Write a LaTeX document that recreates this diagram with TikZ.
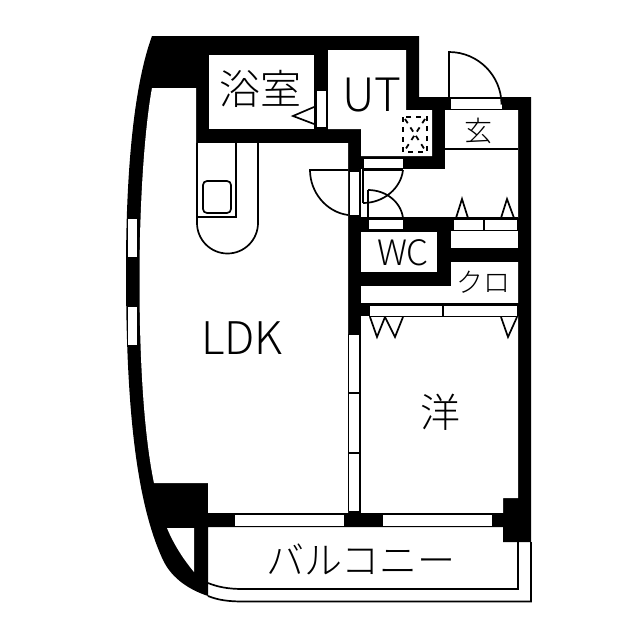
\documentclass[tikz,border=0pt]{standalone}
\usepackage{fontspec}
\newfontfamily\cjk[UprightFont=* Light]{Noto Sans CJK JP}
\tikzset{
  room/.style={fill=white,draw=none},
  opening/.style={fill=white,draw=black,line width=1pt},
  thin/.style={draw=black,line width=1.1pt},
  fine/.style={draw=black,line width=1.7pt},
  lab/.style={inner sep=0pt,font=\cjk,text=black}
}
\begin{document}
\begin{tikzpicture}[x=1pt,y=-1pt]
\useasboundingbox (0,0) rectangle (640,640);
\fill[white] (0,0) rectangle (640,640);
% building mass
\fill[black] (152,36) -- (419,36) -- (419,97) -- (531,97) -- (531,542) -- (503,542) -- (503,527) -- (208,527) -- (208,596)
  .. controls (190,590) and (172,579) .. (163,560)
  .. controls (135,500) and (126,400) .. (126,270)
  .. controls (126,170) and (134,85) .. (152,36) -- cycle;
% LDK
\fill[room] (196,88) -- (196,143) -- (348,143) -- (348,513) -- (208,513) -- (208,483) -- (154,483)
  .. controls (145,440) and (139.5,370) .. (139.5,280)
  .. controls (139.5,190) and (146,120) .. (152,88) -- cycle;
% triangle by the balcony
\fill[room] (167,528) -- (194,528) -- (194,572) .. controls (184,560) and (174,545) .. (167,528) -- cycle;
% other rooms
\fill[room] (209,55) rectangle (314,129);
\fill[room] (328,50) -- (406,50) -- (406,110) -- (432,110) -- (432,156) -- (361,156) -- (361,129) -- (328,129) -- cycle;
\fill[room] (361,169) -- (445,169) -- (445,110) -- (518,110) -- (518,218) -- (361,218) -- cycle;
\fill[room] (361,232) rectangle (437,272);
\fill[room] (451,231) rectangle (518,248);
\fill[room] (451,262) -- (518,262) -- (518,303) -- (361,303) -- (361,286) -- (451,286) -- cycle;
\fill[room] (361,316) -- (518,316) -- (518,498) -- (503,498) -- (503,513) -- (361,513) -- cycle;
% windows in the curved wall
\draw[opening] (127.5,218) rectangle (137.5,257);
\draw[opening] (127.5,306) rectangle (137.5,345);
% bottom windows
\draw[opening] (234,514) rectangle (344,526.5);
\draw[opening] (382,514) rectangle (492,526.5);
\draw[thin] (208,513.5) -- (348,513.5);
\draw[thin] (361,513.5) -- (503,513.5);
\draw[thin] (208,526.5) -- (503,526.5);
% sliding door to LDK/western room
\fill[white] (348.5,334) rectangle (360,511);
\draw[black,line width=1pt] (348.5,334) -- (348.5,511);
\draw[black,line width=1.7pt] (359.5,334) -- (359.5,511);
\draw[black,line width=1pt] (348.5,334) -- (359.5,334);
\draw[black,line width=1.3pt] (348.5,393) -- (359.5,393);
\draw[black,line width=1.3pt] (348.5,453) -- (359.5,453);
% closet doors
\draw[opening] (369,305) rectangle (517.5,316);
\draw[thin] (443,305) -- (443,316);
\draw[thin] (361,303.5) -- (518,303.5);
\draw[fine] (370,317) -- (377,337) -- (385,317) (385,317) -- (395,337) -- (403,317);
\draw[fine] (501,317) -- (508,337) -- (517,317);
% shoe cupboard doors
\draw[opening] (453,219) rectangle (517.5,230.5);
\draw[thin] (484,219) -- (484,230.5);
\draw[thin] (361,218) -- (518,218);
\draw[fine] (456,218) -- (462,199) -- (468,218);
\draw[fine] (501,218) -- (507,199) -- (514,218);
% entrance door
\draw[opening] (450,98) rectangle (502,109.5);
\draw[fine] (449,98) -- (449,52) arc[start angle=270,end angle=360,radius=52.5];
\draw[thin] (445,149) -- (518,149);
% UT door opening and leaf
\draw[opening] (363,158) rectangle (403,168);
\draw[fine] (403,170) -- (363,170) -- (363,203);
\draw[fine] (403,170) .. controls (401,188) and (384,203) .. (363,203);
% WC door
\draw[opening] (368,219) rectangle (403,229);
\draw[fine] (368,218) -- (368,190);
\draw[fine] (368,190) .. controls (386,190) and (401,202) .. (403,218);
% LDK door
\fill[white] (349,171) rectangle (359,215);
\draw[black,line width=1pt] (349,171) rectangle (359,215);
\draw[fine] (348,170) -- (310,170) .. controls (310,192) and (326,212) .. (348,215);
\draw[thin] (360,170) -- (360,215);
% bath door
\draw[opening] (316,90) rectangle (326,127);
\draw[fine] (314,107) -- (293,116) -- (314,124);
% pipe space
\draw[black,line width=2pt,dash pattern=on 5pt off 5pt] (403,117) rectangle (427,152);
\draw[black,line width=1.8pt,dash pattern=on 5pt off 5pt] (405,119) -- (425,150) (425,119) -- (405,150);
% kitchen
\draw[fine] (197,143) -- (197,223) arc[start angle=180,end angle=0,radius=30.5] -- (258,143);
\draw[fine] (236,143) -- (236,217) -- (197,217);
\draw[fine,rounded corners=4pt] (203,181) rectangle (231,213);
% balcony
\draw[fine] (208,583) .. controls (218,587) and (228,589) .. (243,589) -- (518,589) -- (518,542);
\draw[fine] (208,596) .. controls (218,600) and (228,601.5) .. (243,601.5) -- (531,601.5) -- (531,542);
% labels
\node[lab,font=\cjk\fontsize{41}{41}\selectfont] (bath) at (260,89) {浴室};
\node[lab,font=\cjk\fontsize{46}{46}\selectfont] (ut) at (372,95) {UT};
\node[lab,font=\cjk\fontsize{28}{28}\selectfont] (gen) at (478,131) {玄};
\node[lab,font=\cjk\fontsize{35}{35}\selectfont] (wc) at (403,253) {WC};
\node[lab,font=\cjk\fontsize{27}{27}\selectfont] (clo) at (483,282) {クロ};
\node[lab,font=\cjk\fontsize{45}{45}\selectfont] (ldk) at (242,338) {LDK};
\node[lab,font=\cjk\fontsize{40}{40}\selectfont] (yo) at (440,412) {洋};
\node[lab,font=\cjk\fontsize{38}{38}\selectfont] (bal) at (361,559) {バルコニー};
\end{tikzpicture}
\end{document}
